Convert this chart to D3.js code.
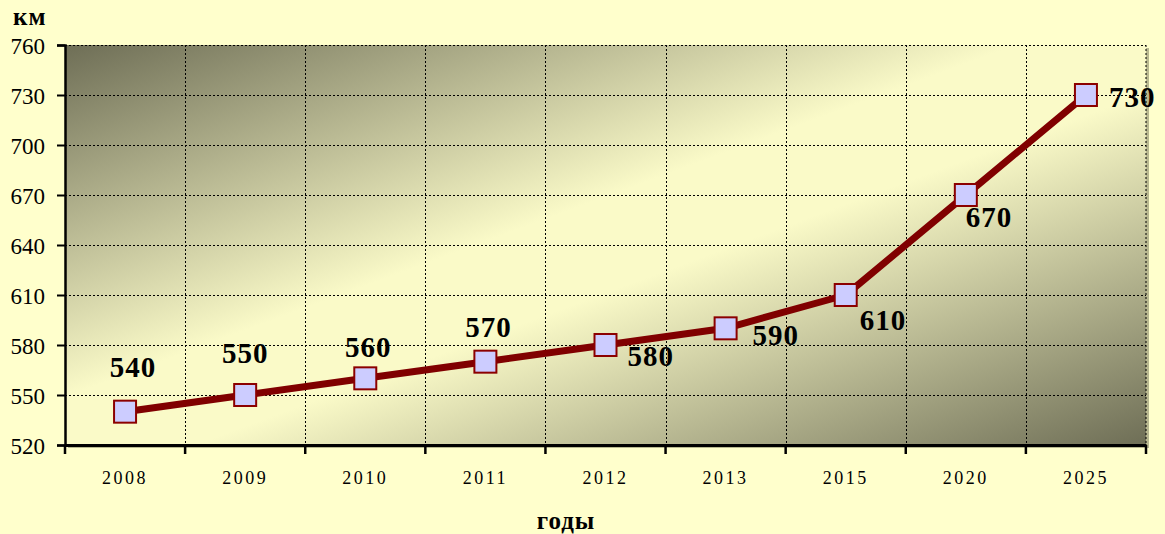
<!DOCTYPE html>
<html>
<head>
<meta charset="utf-8">
<script src="https://cdn.jsdelivr.net/npm/d3@7/dist/d3.min.js"></script>
<style>
  html, body { margin: 0; padding: 0; background: #ffffcc; }
  svg { display: block; }
  svg text { font-family: "Liberation Serif", "Times New Roman", Tinos, "Nimbus Roman", Times, serif; }
</style>
</head>
<body>
<div class="canvaChart"></div>
<script>
// data
const years = ["2008", "2009", "2010", "2011", "2012", "2013", "2015", "2020", "2025"];
const km = [540, 550, 560, 570, 580, 590, 610, 670, 730];
const yTicks = [520, 550, 580, 610, 640, 670, 700, 730, 760];

// label offsets from each point (dx, dy to baseline), anchored at start/middle
const labelOffsets = [
  [8, -35, "middle"], [0, -32, "middle"], [3, -21, "middle"], [3, -25, "middle"],
  [22, 21, "start"], [27, 17, "start"], [14, 35, "start"], [0, 32, "start"], [23, 12, "start"]
];

const W = 1165, H = 534;
const pLeft = 65, pRight = 1146, pTop = 45, pBottom = 445;

const svg = d3.select(".canvaChart").append("svg")
  .attr("width", W)
  .attr("height", H);

const defs = svg.append("defs");
const grad = defs.append("linearGradient")
  .attr("id", "bg")
  .attr("x1", 0).attr("y1", 0).attr("x2", 1).attr("y2", 1);
grad.append("stop").attr("offset", "0%").attr("stop-color", "#6e6e56");
grad.append("stop").attr("offset", "44%").attr("stop-color", "#fafac8");
grad.append("stop").attr("offset", "56%").attr("stop-color", "#fafac8");
grad.append("stop").attr("offset", "100%").attr("stop-color", "#6e6e56");

const x = d3.scaleBand().domain(years).range([pLeft, pRight]);
const y = d3.scaleLinear().domain([520, 760]).range([pBottom, pTop]);

// plot area with shadow on the right
svg.append("rect")
  .attr("x", pLeft + 3).attr("y", pTop + 3)
  .attr("width", pRight - pLeft).attr("height", pBottom - pTop)
  .attr("fill", "#b8b890");
svg.append("rect")
  .attr("x", pLeft).attr("y", pTop)
  .attr("width", pRight - pLeft).attr("height", pBottom - pTop)
  .attr("fill", "url(#bg)");

// grid
const grid = svg.append("g")
  .attr("stroke", "#000")
  .attr("stroke-width", 1)
  .attr("stroke-dasharray", "2,2");
grid.selectAll("line.h")
  .data(yTicks.filter(d => d > 520))
  .enter().append("line")
  .attr("x1", pLeft).attr("x2", pRight)
  .attr("y1", d => Math.round(y(d)) + 0.5)
  .attr("y2", d => Math.round(y(d)) + 0.5);
grid.selectAll("line.v")
  .data(years.slice(1).concat(["end"]))
  .enter().append("line")
  .attr("x1", d => d === "end" ? pRight : Math.round(x(d)) + 0.5)
  .attr("x2", d => d === "end" ? pRight : Math.round(x(d)) + 0.5)
  .attr("y1", pTop).attr("y2", pBottom);

// y axis
const yAxis = svg.append("g")
  .attr("transform", `translate(${pLeft},0)`)
  .call(d3.axisLeft(y).tickValues(yTicks).tickSize(8).tickPadding(12).tickFormat(d3.format("d")));
yAxis.attr("font-family", null);
yAxis.select(".domain").attr("stroke-width", 2.5);
yAxis.selectAll(".tick line").attr("stroke-width", 2);
yAxis.selectAll("text")
  .attr("font-size", 23)
  .attr("fill", "#000")
  .attr("dy", "0.35em");

// x axis, ticks at band boundaries
const xAxis = svg.append("g")
  .attr("transform", `translate(0,${pBottom})`)
  .call(d3.axisBottom(x).tickSize(0).tickPadding(26));
xAxis.attr("font-family", null);
xAxis.select(".domain").attr("stroke-width", 3);
xAxis.selectAll("text")
  .attr("font-size", 18)
  .attr("letter-spacing", "2.5px")
  .attr("fill", "#000");
svg.append("g").selectAll("line")
  .data(years.concat(["end"]))
  .enter().append("line")
  .attr("x1", d => d === "end" ? pRight : x(d))
  .attr("x2", d => d === "end" ? pRight : x(d))
  .attr("y1", pBottom).attr("y2", pBottom + 9)
  .attr("stroke", "#000").attr("stroke-width", 2.5);

// line
const cx = (d, i) => x(years[i]) + x.bandwidth() / 2;
svg.append("path")
  .datum(km)
  .attr("fill", "none")
  .attr("stroke", "#800000")
  .attr("stroke-width", 7)
  .attr("stroke-linejoin", "round")
  .attr("d", d3.line().x(cx).y(d => y(d)));

// markers
const ms = 22;
svg.selectAll("rect.marker")
  .data(km)
  .enter().append("rect")
  .attr("class", "marker")
  .attr("x", (d, i) => cx(d, i) - ms / 2)
  .attr("y", d => y(d) - ms / 2)
  .attr("width", ms).attr("height", ms)
  .attr("fill", "#ccccff")
  .attr("stroke", "#8b0000")
  .attr("stroke-width", 2);

// value labels
svg.selectAll("text.val")
  .data(km)
  .enter().append("text")
  .attr("class", "val")
  .attr("x", (d, i) => cx(d, i) + labelOffsets[i][0])
  .attr("y", (d, i) => y(d) + labelOffsets[i][1])
  .attr("text-anchor", (d, i) => labelOffsets[i][2])
  .attr("font-weight", "bold")
  .attr("font-size", 29)
  .attr("letter-spacing", "1px")
  .attr("fill", "#000")
  .text(d => d);

// axis titles
svg.append("text")
  .attr("x", 13).attr("y", 25)
  .attr("font-weight", "bold")
  .attr("font-size", 25)
  .attr("letter-spacing", "1px")
  .text("км");
svg.append("text")
  .attr("x", 566).attr("y", 529)
  .attr("text-anchor", "middle")
  .attr("font-weight", "bold")
  .attr("font-size", 25)
  .attr("letter-spacing", "1px")
  .text("годы");
</script>
</body>
</html>
